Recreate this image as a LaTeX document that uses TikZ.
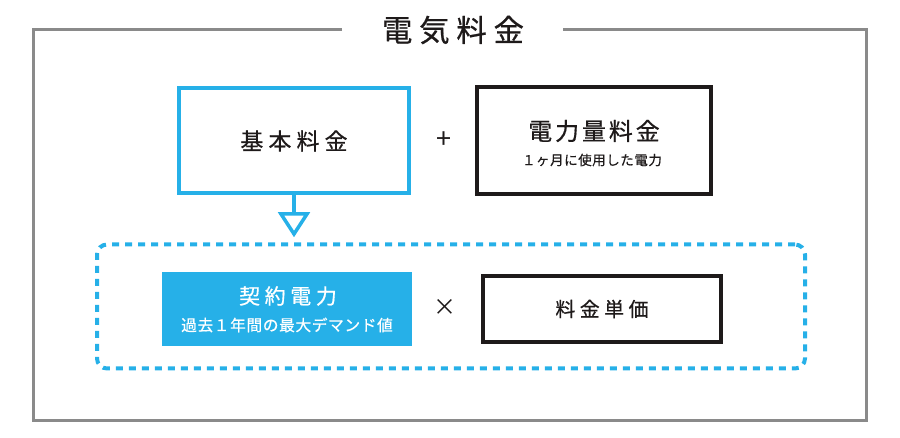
\documentclass[tikz,border=0pt]{standalone}
\usepackage{fontspec}
\setmainfont{Noto Sans CJK JP}
\newfontfamily\jpA[LetterSpace=22,FakeBold=0.6]{Noto Sans CJK JP}
\newfontfamily\jpB[LetterSpace=12,FakeBold=0.6]{Noto Sans CJK JP}
\newfontfamily\jpC[LetterSpace=4,FakeBold=0.6]{Noto Sans CJK JP}
\definecolor{skyb}{RGB}{38,176,232}
\definecolor{framegray}{RGB}{138,138,138}
\definecolor{ink}{RGB}{30,26,26}
\begin{document}
\begin{tikzpicture}[x=1pt,y=-1pt,
  bluebox/.style={draw=skyb,line width=4pt,minimum width=230pt,minimum height=105pt,inner sep=0pt},
  blackbox/.style={draw=ink,line width=4pt,inner sep=0pt},
  txt/.style={text=ink,inner sep=0pt}]
\useasboundingbox (0,0) rectangle (900,438);
% outer frame
\node[txt,font=\jpA\fontsize{30.5}{30.5}\selectfont] (title) at (453,30) {電気料金};
\draw[framegray,line width=3pt] (342,30) -- (33,30) -- (33,420) -- (866,420) -- (866,30) -- (563,30);
% top row
\node[bluebox] (kihon) at (294,140.5) {};
\node[txt,font=\jpA\fontsize{23}{23}\selectfont] (kihont) at (294,141) {基本料金};
\node[txt,font=\fontsize{27}{27}\selectfont] (plus) at (444,140) {+};
\node[blackbox,minimum width=234pt,minimum height=107pt] (ryo) at (594,140.5) {};
\node[txt,font=\jpB\fontsize{24}{24}\selectfont] (ryot) at (594,131) {電力量料金};
\node[txt,font=\jpC\fontsize{13.5}{13.5}\selectfont] (ryos) at (592,160) {１ヶ月に使用した電力};
% dashed frame
\node[draw=skyb,line width=4pt,dash pattern=on 7pt off 6pt,rounded corners=10pt,minimum width=708pt,minimum height=124pt,inner sep=0pt] (frame) at (451,306.5) {};
% arrow
\draw[skyb,line width=4pt] (kihon.south) -- ++(0,19) coordinate (tri);
\draw[skyb,line width=3.5pt,fill=white,line join=miter] ([xshift=-13pt]tri) -- ([xshift=13pt]tri) -- ([yshift=-20pt]tri) -- cycle;
% bottom row
\node[fill=skyb,minimum width=250pt,minimum height=74pt,inner sep=0pt] (keiyaku) at (287,309) {};
\node[text=white,inner sep=0pt,font=\jpA\fontsize{21}{21}\selectfont] (keiyakut) at (288,296) {契約電力};
\node[text=white,inner sep=0pt,font=\jpC\fontsize{15.7}{15.7}\selectfont] (keiyakus) at (287,325) {過去１年間の最大デマンド値};
\node[txt,font=\fontsize{23}{23}\selectfont] (times) at (445,307) {×};
\node[blackbox,line width=3.5pt,minimum width=238pt,minimum height=66pt] (tanka) at (602,309) {};
\node[txt,font=\jpA\fontsize{20}{20}\selectfont] (tankat) at (tanka) {料金単価};
\end{tikzpicture}
\end{document}
